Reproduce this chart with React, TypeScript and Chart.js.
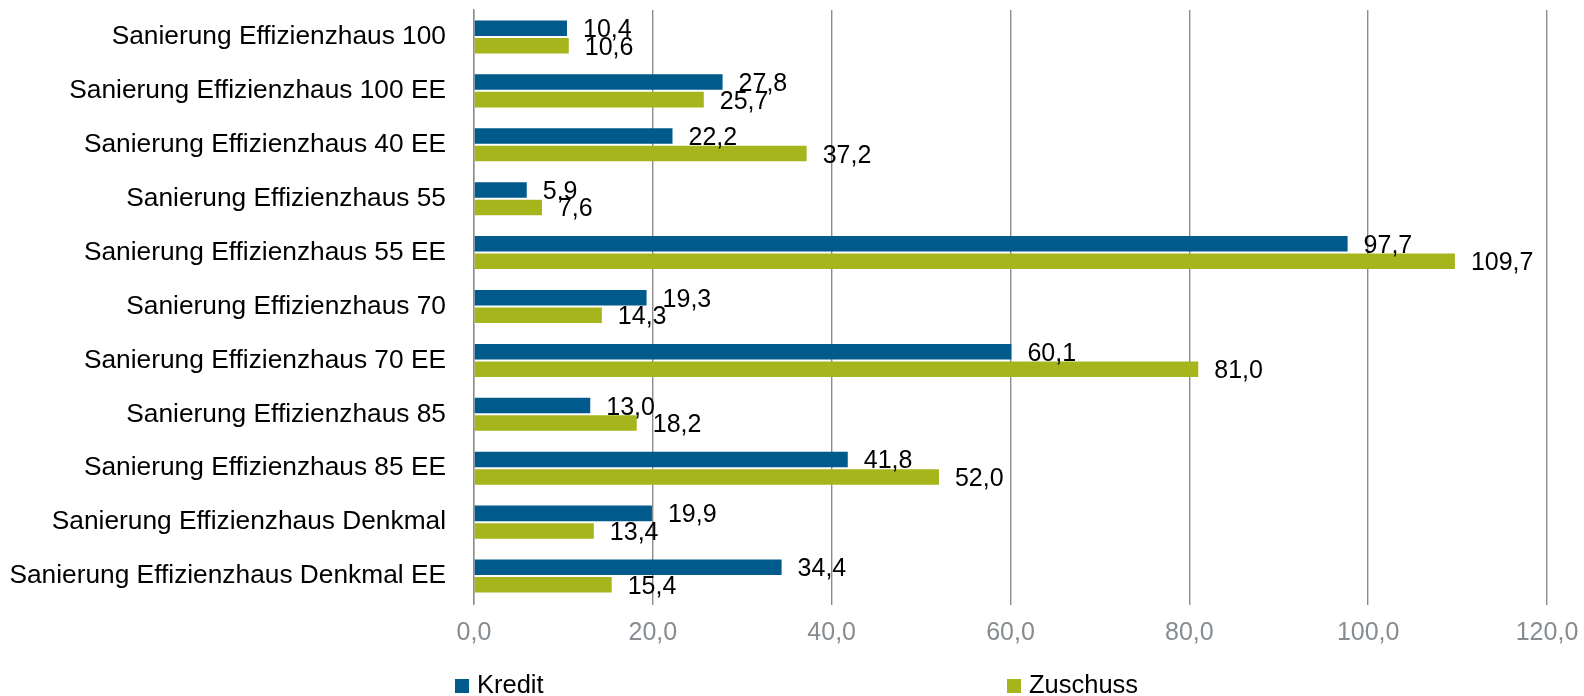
import React, { useEffect, useRef } from "react";
import { Chart, registerables } from "chart.js";

Chart.register(...registerables);

const categories = [
  "Sanierung Effizienzhaus 100",
  "Sanierung Effizienzhaus 100 EE",
  "Sanierung Effizienzhaus 40 EE",
  "Sanierung Effizienzhaus 55",
  "Sanierung Effizienzhaus 55 EE",
  "Sanierung Effizienzhaus 70",
  "Sanierung Effizienzhaus 70 EE",
  "Sanierung Effizienzhaus 85",
  "Sanierung Effizienzhaus 85 EE",
  "Sanierung Effizienzhaus Denkmal",
  "Sanierung Effizienzhaus Denkmal EE",
];
const kredit = [10.4, 27.8, 22.2, 5.9, 97.7, 19.3, 60.1, 13.0, 41.8, 19.9, 34.4];
const zuschuss = [10.6, 25.7, 37.2, 7.6, 109.7, 14.3, 81.0, 18.2, 52.0, 13.4, 15.4];
const seriesNames = ["Kredit", "Zuschuss"];
const xMin = 0;
const xMax = 120;
const xStep = 20;

const COLORS = ["#005A8C", "#A6B51C"];
const FONT = "'Liberation Sans', Arial, sans-serif";
const fmt = (v: number) => v.toFixed(1).replace(".", ",");

const W = 1584;
const H = 696;

const labelPlugin = {
  id: "valueLabels",
  afterDatasetsDraw(chart: any) {
    const ctx = chart.ctx;
    ctx.save();
    ctx.font = `25px ${FONT}`;
    ctx.fillStyle = "#000";
    ctx.textAlign = "left";
    ctx.textBaseline = "alphabetic";
    chart.data.datasets.forEach((ds: any, di: number) => {
      const meta = chart.getDatasetMeta(di);
      meta.data.forEach((bar: any, i: number) => {
        const v = ds.data[i];
        ctx.fillText(fmt(v), bar.x + 16, bar.y + 9);
      });
    });
    ctx.restore();
  },
};

const legendPlugin = {
  id: "customLegend",
  afterDraw(chart: any) {
    const ctx = chart.ctx;
    ctx.save();
    ctx.font = `25.5px ${FONT}`;
    ctx.textAlign = "left";
    ctx.textBaseline = "alphabetic";
    const xs = [455, 1007];
    seriesNames.forEach((name, i) => {
      ctx.fillStyle = COLORS[i];
      ctx.fillRect(xs[i], 679, 14, 14);
      ctx.fillStyle = "#000";
      ctx.fillText(name, xs[i] + 22, 693);
    });
    ctx.restore();
  },
};

export default function App() {
  const ref = useRef<HTMLCanvasElement | null>(null);

  useEffect(() => {
    document.body.style.margin = "0";
    document.body.style.overflow = "hidden";
    const canvas = ref.current!;
    const chart = new Chart(canvas, {
      type: "bar",
      data: {
        labels: categories,
        datasets: [
          {
            label: seriesNames[0],
            data: kredit,
            backgroundColor: COLORS[0],
            categoryPercentage: 0.65,
            barPercentage: 0.885,
          },
          {
            label: seriesNames[1],
            data: zuschuss,
            backgroundColor: COLORS[1],
            categoryPercentage: 0.65,
            barPercentage: 0.885,
          },
        ],
      },
      options: {
        indexAxis: "y",
        responsive: false,
        animation: false,
        layout: { padding: { left: 0, right: 37, top: 10, bottom: 0 } },
        plugins: {
          legend: { display: false },
          tooltip: { enabled: false },
        },
        scales: {
          x: {
            min: xMin,
            max: xMax,
            ticks: {
              stepSize: xStep,
              callback: (v: any) => fmt(Number(v)),
              color: "#878C90",
              font: { family: FONT, size: 25 },
              padding: 13,
              maxRotation: 0,
            },
            grid: {
              color: "#8C8C8C",
              lineWidth: 1.4,
              drawTicks: true,
              tickLength: 2,
            },
            border: { display: false },
            afterFit: (s: any) => {
              s.height = 93;
              s.paddingLeft = 0;
              s.paddingRight = 0;
            },
          },
          y: {
            ticks: {
              color: "#000",
              font: { family: FONT, size: 26.3 },
              padding: 28,
              autoSkip: false,
            },
            grid: { display: false, drawTicks: false },
            border: { display: true, color: "#8C8C8C", width: 1.4 },
            afterFit: (s: any) => {
              s.width = 474;
              s.paddingTop = 0;
              s.paddingBottom = 0;
            },
          },
        },
      },
      plugins: [labelPlugin, legendPlugin],
    } as any);
    return () => chart.destroy();
  }, []);

  return (
    <div style={{ width: W, height: H }}>
      <canvas ref={ref} width={W} height={H} style={{ display: "block" }} />
    </div>
  );
}
